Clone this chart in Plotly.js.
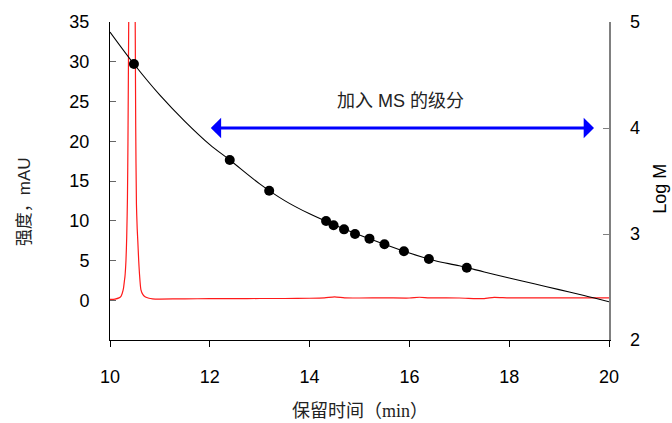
<!DOCTYPE html>
<html>
<head>
<meta charset="utf-8">
<script src="https://cdn.plot.ly/plotly-3.0.1.min.js"></script>
<style>html,body{margin:0;padding:0;background:#fff;}#chart{width:672px;height:423px;}</style>
</head>
<body>
<div id="chart"></div>
<script>
// Chromatogram (left axis, mAU)
var chromTime = [10.00, 10.10, 10.18, 10.22, 10.244, 10.27, 10.29, 10.30, 10.32, 10.335, 10.35, 10.36, 10.375, 10.39, 10.41, 10.44, 10.47, 10.49, 10.505, 10.515, 10.53, 10.545, 10.557, 10.575, 10.59, 10.62, 10.66, 10.71, 10.78, 10.85, 11.0, 11.5, 12.0, 12.5, 13.0, 13.5, 14.0, 14.3, 14.5, 14.7, 15.0, 15.5, 16.0, 16.2, 16.4, 17.0, 17.5, 17.6, 17.7, 18.0, 18.5, 19.0, 19.5, 20.0];
var chromInt  = [0.10, 0.15, 0.30, 0.50, 0.85, 1.5, 2.5, 3.0, 5.0, 8.0, 13, 20, 35, 48, 62, 70, 60, 45, 35, 22, 12, 9, 7.5, 5.0, 3.4, 1.3, 0.7, 0.4, 0.25, 0.18, 0.15, 0.18, 0.20, 0.20, 0.22, 0.22, 0.25, 0.30, 0.42, 0.30, 0.28, 0.30, 0.28, 0.38, 0.30, 0.28, 0.20, 0.30, 0.36, 0.30, 0.30, 0.30, 0.30, 0.30];

// Calibration fit curve (right axis, Log M)
var fitTime = [10.0, 10.5, 11.0, 11.5, 12.0, 12.4, 13.0, 13.5, 14.0, 14.5, 15.0, 15.5, 16.0, 16.5, 17.0, 17.5, 18.0, 18.5, 19.0, 19.5, 20.0];
var fitLogM = [4.906, 4.592, 4.31, 4.063, 3.843, 3.698, 3.473, 3.315, 3.19, 3.085, 2.99, 2.903, 2.82, 2.75, 2.70, 2.642, 2.585, 2.53, 2.475, 2.42, 2.361];

// Calibration standards (right axis, Log M)
var stdTime = [10.48, 12.40, 13.19, 14.33, 14.48, 14.69, 14.91, 15.20, 15.50, 15.89, 16.39, 17.15];
var stdLogM = [4.604, 3.698, 3.408, 3.123, 3.082, 3.044, 3.000, 2.956, 2.903, 2.837, 2.764, 2.682];

// Fraction window arrow
var arrowTime = [11.99, 19.70];
var arrowLogM = [4.0, 4.0];
var noteText = '加入 MS 的级分';
var noteTime = 15.82, noteLogM = 4.255;

var xTicks = [10, 12, 14, 16, 18, 20];
var yTicks = [0, 5, 10, 15, 20, 25, 30, 35];
var y2Ticks = [2, 3, 4, 5];

var tickFont = {family: 'Arial, "Liberation Sans", sans-serif', size: 18, color: '#000'};

var traces = [
  {x: chromTime, y: chromInt, type: 'scatter', mode: 'lines', yaxis: 'y',
   line: {color: '#ff1a1a', width: 1.2, shape: 'spline', smoothing: 0.6}, hoverinfo: 'skip'},
  {x: fitTime, y: fitLogM, type: 'scatter', mode: 'lines', yaxis: 'y2',
   line: {color: '#000', width: 1.1, shape: 'spline'}, hoverinfo: 'skip'},
  {x: stdTime, y: stdLogM, type: 'scatter', mode: 'markers', yaxis: 'y2',
   marker: {color: '#000', size: 10, line: {width: 0}}, hoverinfo: 'skip'}
];

var layout = {
  width: 672, height: 423,
  margin: {l: 110, r: 63, t: 22, b: 83, pad: 0},
  paper_bgcolor: '#fff', plot_bgcolor: '#fff',
  showlegend: false,
  xaxis: {
    range: [10, 20], tickvals: xTicks, ticktext: xTicks.map(String),
    ticks: 'outside', ticklen: 6, tickcolor: '#000', tickwidth: 1,
    showline: true, linecolor: '#000', linewidth: 1,
    showgrid: false, zeroline: false, tickfont: tickFont,
    ticklabelstandoff: 14
  },
  yaxis: {
    range: [-5, 35], tickvals: yTicks, ticktext: yTicks.map(String),
    ticks: 'inside', ticklen: 6, tickcolor: '#666', tickwidth: 1,
    showline: true, linecolor: '#000', linewidth: 1,
    showgrid: false, zeroline: false, tickfont: tickFont,
    ticklabelstandoff: 16
  },
  yaxis2: {
    range: [2, 5], tickvals: y2Ticks, ticktext: y2Ticks.map(String),
    overlaying: 'y', side: 'right', anchor: 'x',
    ticks: 'inside', ticklen: 6, tickcolor: '#808080', tickwidth: 1,
    showline: true, linecolor: '#808080', linewidth: 1.5,
    showgrid: false, zeroline: false, tickfont: tickFont,
    ticklabelstandoff: 16
  },
  annotations: [
    {xref: 'x', yref: 'y2', x: arrowTime[1], y: arrowLogM[1],
     axref: 'x', ayref: 'y2', ax: arrowTime[0], ay: arrowLogM[0],
     text: '', showarrow: true, arrowside: 'end+start', arrowhead: 1, startarrowhead: 1,
     arrowsize: 1.15, startarrowsize: 1.15, arrowwidth: 3, arrowcolor: '#0000ff'},
    {xref: 'x', yref: 'y2', x: noteTime, y: noteLogM, text: noteText, showarrow: false,
     font: {family: 'Arial, "Liberation Sans", "Noto Sans CJK SC", sans-serif', size: 18, color: '#222'}},
    {xref: 'paper', yref: 'paper', x: 0.5, y: -0.224, yanchor: 'middle', text: '保留时间（min）', showarrow: false,
     font: {family: '"Liberation Serif", "Noto Sans CJK SC", serif', size: 18, color: '#222'}},
    {xref: 'paper', yref: 'paper', x: -0.170, y: 0.434, xanchor: 'center', yanchor: 'middle', textangle: -90,
     text: '强度，mAU', showarrow: false,
     font: {family: 'Arial, "Liberation Sans", "Noto Sans CJK SC", sans-serif', size: 17, color: '#222'}},
    {xref: 'paper', yref: 'paper', x: 1.102, y: 0.475, xanchor: 'center', yanchor: 'middle', textangle: -90,
     text: 'Log M', showarrow: false,
     font: {family: 'Arial, "Liberation Sans", sans-serif', size: 18, color: '#000'}}
  ]
};

Plotly.newPlot('chart', traces, layout, {displayModeBar: false, staticPlot: true});
</script>
</body>
</html>
